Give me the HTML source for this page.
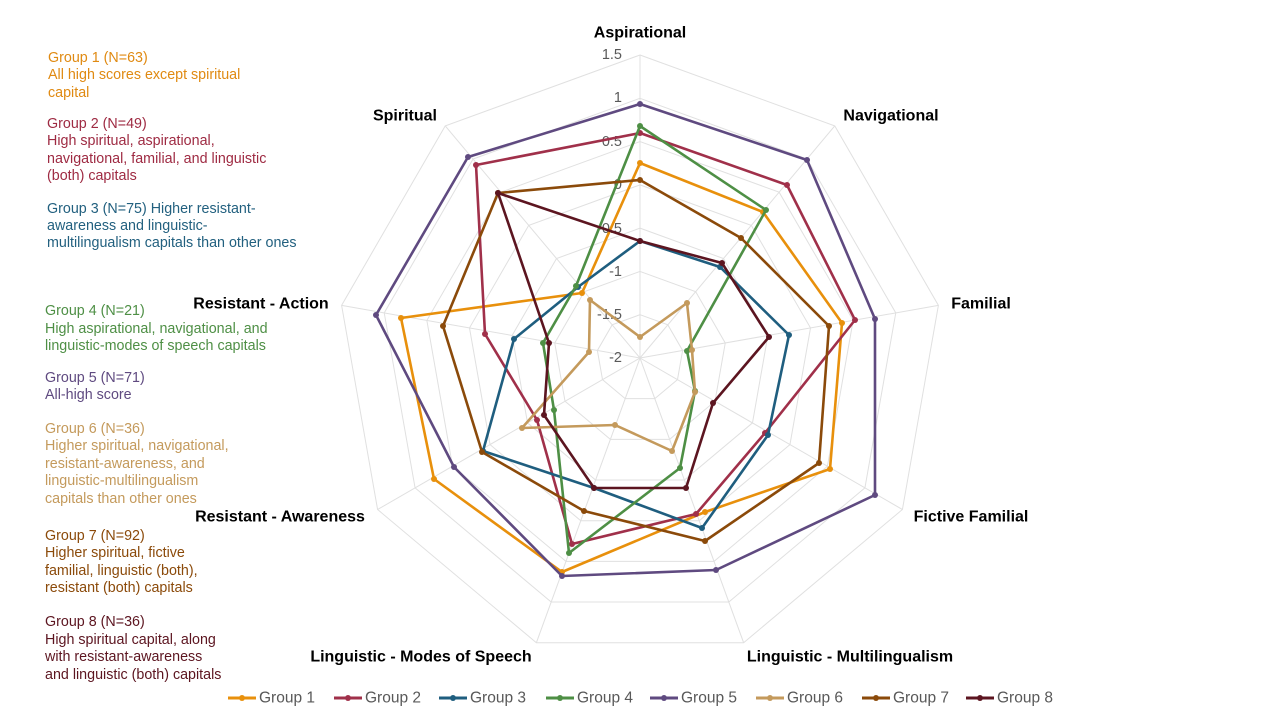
<!DOCTYPE html>
<html><head><meta charset="utf-8"><style>
html,body{margin:0;padding:0;background:#fff;}
svg{display:block;font-family:"Liberation Sans",Arial,sans-serif;}
</style></head><body>
<svg id="s" width="1280" height="720" viewBox="0 0 1280 720" xmlns="http://www.w3.org/2000/svg">
<g id="grid" stroke="#e0e0e0" stroke-width="1" fill="none"></g>
<g font-size="14.5" fill="#595959" text-anchor="end" dominant-baseline="central">
<text x="622" y="55">1.5</text><text x="622" y="98">1</text><text x="622" y="142">0.5</text>
<text x="622" y="185">0</text><text x="622" y="229">-0.5</text><text x="622" y="272">-1</text>
<text x="622" y="315">-1.5</text><text x="622" y="358">-2</text>
</g>
<g font-size="16" font-weight="bold" fill="#000" text-anchor="middle" dominant-baseline="central">
<text x="640" y="33">Aspirational</text><text x="891" y="116">Navigational</text>
<text x="981" y="304">Familial</text><text x="971" y="517">Fictive Familial</text>
<text x="850" y="657">Linguistic - Multilingualism</text><text x="421" y="657">Linguistic - Modes of Speech</text>
<text x="280" y="517">Resistant - Awareness</text><text x="261" y="304">Resistant - Action</text>
<text x="405" y="116">Spiritual</text>
</g>
<g id="series" fill="none" stroke-width="2.6" stroke-linejoin="round"></g>
<g font-size="14.3" dominant-baseline="central">
<g fill="#E08A12"><text x="48" y="58">Group 1 (N=63)</text><text x="48" y="75">All high scores except spiritual</text><text x="48" y="93">capital</text></g>
<g fill="#9E2A42"><text x="47" y="124">Group 2 (N=49)</text><text x="47" y="141">High spiritual, aspirational,</text><text x="47" y="159">navigational, familial, and linguistic</text><text x="47" y="176">(both) capitals</text></g>
<g fill="#22607F"><text x="47" y="209">Group 3 (N=75) Higher resistant-</text><text x="47" y="226">awareness and linguistic-</text><text x="47" y="243">multilingualism capitals than other ones</text></g>
<g fill="#4E8F45"><text x="45" y="311">Group 4 (N=21)</text><text x="45" y="329">High aspirational, navigational, and</text><text x="45" y="346">linguistic-modes of speech capitals</text></g>
<g fill="#5F4A80"><text x="45" y="378">Group 5 (N=71)</text><text x="45" y="395">All-high score</text></g>
<g fill="#C49A5C"><text x="45" y="429">Group 6 (N=36)</text><text x="45" y="446">Higher spiritual, navigational,</text><text x="45" y="464">resistant-awareness, and</text><text x="45" y="481">linguistic-multilingualism</text><text x="45" y="499">capitals than other ones</text></g>
<g fill="#8B4A0A"><text x="45" y="536">Group 7 (N=92)</text><text x="45" y="553">Higher spiritual, fictive</text><text x="45" y="571">familial, linguistic (both),</text><text x="45" y="588">resistant (both) capitals</text></g>
<g fill="#5C1520"><text x="45" y="622">Group 8 (N=36)</text><text x="45" y="640">High spiritual capital, along</text><text x="45" y="657">with resistant-awareness</text><text x="45" y="675">and linguistic (both) capitals</text></g>
</g>
<g id="legend" font-size="15.5" fill="#595959" dominant-baseline="central"></g>
</svg>
<script>
var NS="http://www.w3.org/2000/svg",cx=640,cy=358,R=303;
var g=document.getElementById('grid');
function pt(i,r){var a=(-90+40*i)*Math.PI/180;return [cx+r*Math.cos(a),cy+r*Math.sin(a)];}
for(var k=1;k<=7;k++){var r=R*k/7,p=[];for(var i=0;i<9;i++)p.push(pt(i,r).join(','));
var e=document.createElementNS(NS,'polygon');e.setAttribute('points',p.join(' '));g.appendChild(e);}
for(var i=0;i<9;i++){var q=pt(i,R);var l=document.createElementNS(NS,'line');
l.setAttribute('x1',cx);l.setAttribute('y1',cy);l.setAttribute('x2',q[0]);l.setAttribute('y2',q[1]);g.appendChild(l);}
var S=[
["#E8900C","640,163 763,212 842,323 830,469 705,512 562,572 434,479 401,318 582,293"],
["#A0304A","640,133 787,185 855,320 765,433 696,514 572,544 537,420 485,334 476,165"],
["#1F5E7F","640,241 720,267 789,335 768,435 702,528 594,488 483,451 514,339 578,287"],
["#4E8F45","640,126 766,210 687,351 695,391 680,468 569,553 554,410 543,343 576,286"],
["#5F4A80","640,104 807,160 875,319 875,495 716,570 562,576 454,467 376,315 468,157"],
["#C49A5C","640,337 687,303 692,350 695,392 672,451 615,425 522,428 589,352 590,300"],
["#8B4A0A","640,180 741,238 829,326 819,463 705,541 584,511 482,452 443,326 498,193"],
["#5C1520","640,241 722,263 769,337 713,403 686,488 594,488 544,415 549,343 498,193"]];
var sg=document.getElementById('series'),lg=document.getElementById('legend');
var lx=[228,334,439,546,650,756,862,966];
S.forEach(function(s,j){var e=document.createElementNS(NS,'polygon');e.setAttribute('points',s[1]);e.setAttribute('stroke',s[0]);sg.appendChild(e);
s[1].split(' ').forEach(function(p){var c=p.split(','),d=document.createElementNS(NS,'circle');d.setAttribute('cx',c[0]);d.setAttribute('cy',c[1]);d.setAttribute('r',3);d.setAttribute('fill',s[0]);d.setAttribute('stroke','none');sg.appendChild(d);});
var l=document.createElementNS(NS,'line');l.setAttribute('x1',lx[j]);l.setAttribute('x2',lx[j]+28);l.setAttribute('y1',698);l.setAttribute('y2',698);l.setAttribute('stroke',s[0]);l.setAttribute('stroke-width',3);lg.appendChild(l);
var d=document.createElementNS(NS,'circle');d.setAttribute('cx',lx[j]+14);d.setAttribute('cy',698);d.setAttribute('r',3);d.setAttribute('fill',s[0]);lg.appendChild(d);
var t=document.createElementNS(NS,'text');t.setAttribute('x',lx[j]+31);t.setAttribute('y',698);t.textContent='Group '+(j+1);lg.appendChild(t);});
</script>
</body></html>
